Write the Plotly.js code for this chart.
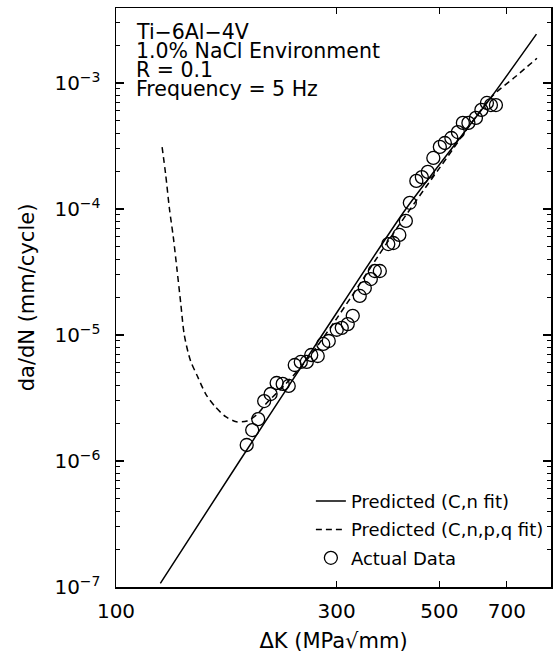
<!DOCTYPE html>
<html>
<head>
<meta charset="utf-8">
<script src="https://cdn.plot.ly/plotly-3.0.1.min.js"></script>
<style>html,body{margin:0;padding:0;background:#fff;}#chart{width:554px;height:660px;}</style>
</head>
<body>
<div id="chart"></div>
<script>
// Actual data (ΔK in MPa√mm, da/dN in mm/cycle)
const dataK = [191.7,197.0,203.0,209.1,215.9,222.5,229.3,236.3,243.5,250.9,258.5,264.3,273.0,280.6,288.4,300.1,307.7,317.0,325.0,336.5,345.1,355.6,362.7,371.9,387.9,397.7,409.8,423.3,431.8,446.0,458.4,472.3,485.4,501.4,514.1,531.0,548.5,562.3,578.0,600.0,616.6,633.8,646.6,662.9];
const dataRate = [1.34e-6,1.76e-6,2.15e-6,2.99e-6,3.40e-6,4.16e-6,4.09e-6,3.94e-6,5.78e-6,6.11e-6,6.11e-6,6.94e-6,6.81e-6,8.49e-6,8.96e-6,1.10e-5,1.14e-5,1.22e-5,1.42e-5,2.04e-5,2.36e-5,2.78e-5,3.22e-5,3.22e-5,5.27e-5,5.37e-5,6.22e-5,8.04e-5,1.12e-4,1.67e-4,1.79e-4,1.97e-4,2.54e-4,3.11e-4,3.34e-4,3.66e-4,4.08e-4,4.82e-4,4.82e-4,5.28e-4,6.11e-4,6.94e-4,6.68e-4,6.68e-4];

// Predicted (C,n fit)
const cnK = [124.7,185,279,423.3,649,811];
const cnRate = [1.07e-7,1.0e-6,1.0e-5,1.0e-4,7.8e-4,2.44e-3];

// Predicted (C,n,p,q fit)
const cnpqK = [125.8,128,130.5,133,135.5,138,140.5,144.8,150,156.7,163.8,172.6,182,192,202,212,230,260,300,400,500,650,730,813];
const cnpqRate = [3.1e-4,1.9e-4,1.0e-4,6.0e-5,3.3e-5,1.8e-5,1.0e-5,6.3e-6,4.7e-6,3.35e-6,2.7e-6,2.25e-6,2.05e-6,2.08e-6,2.35e-6,2.9e-6,3.9e-6,6.5e-6,1.35e-5,6.6e-5,2.1e-4,7.8e-4,1.12e-3,1.57e-3];

const xTickVals = [100,300,500,700];
const xTickText = ['100','300','500','700'];
const yTickVals = [1e-7,1e-6,1e-5,1e-4,1e-3];
const yTickText = ['10<sup>−7</sup>','10<sup>−6</sup>','10<sup>−5</sup>','10<sup>−4</sup>','10<sup>−3</sup>'];
const infoLines = ['Ti−6Al−4V','1.0% NaCl Environment','R = 0.1','Frequency = 5 Hz'];

const yMinor = [];
for (let e = -7; e <= -3; e++) for (let m = 2; m <= 9; m++) yMinor.push(m * Math.pow(10, e));

const FONT = 'DejaVu Sans, Liberation Sans, sans-serif';

const traces = [
  {x: cnK, y: cnRate, mode: 'lines', name: 'Predicted (C,n fit)', legendgroup: 'a',
   line: {color: '#000', width: 1.5, shape: 'spline', smoothing: 0.6}},
  {x: cnpqK, y: cnpqRate, mode: 'lines', name: 'Predicted (C,n,p,q fit)', legendgroup: 'b',
   line: {color: '#000', width: 1.5, dash: '6px,4px', shape: 'spline', smoothing: 0.8}},
  {x: dataK, y: dataRate, mode: 'markers', name: 'Actual Data', legendgroup: 'c',
   marker: {symbol: 'circle-open', size: 13, color: '#000', line: {width: 1.3, color: '#000'}}}
];

const annotations = infoLines.map((t, i) => ({
  text: t, xref: 'paper', yref: 'paper', x: (134 - 116) / 435, y: 1 - (32 + 19 * i - 8) / 579,
  xanchor: 'left', yanchor: 'middle', showarrow: false,
  font: {family: FONT, size: 20.5, color: '#000'}
}));

const layout = {
  width: 554, height: 660,
  margin: {l: 116, r: 3, t: 8, b: 73},
  paper_bgcolor: '#fff', plot_bgcolor: '#fff',
  font: {family: FONT, color: '#000', size: 20},
  showlegend: true,
  legend: {x: 0.448, y: 0.18, xanchor: 'left', yanchor: 'top', bgcolor: 'rgba(0,0,0,0)',
           font: {family: FONT, size: 18, color: '#000'}, tracegroupgap: 2},
  xaxis: {type: 'log', range: [2, 2.9405], tickvals: xTickVals, ticktext: xTickText,
          ticks: 'inside', ticklen: 6, tickwidth: 1.2, tickcolor: '#000',
          showline: true, linecolor: '#000', linewidth: 1.5, mirror: 'ticks',
          showgrid: false, zeroline: false, ticklabelstandoff: 5,
          tickfont: {family: FONT, size: 20, color: '#000'},
          title: {text: 'ΔK (MPa√mm)', font: {family: FONT, size: 21, color: '#000'}, standoff: 12}},
  yaxis: {type: 'log', range: [-7, -2.405], tickvals: yTickVals, ticktext: yTickText,
          ticks: 'inside', ticklen: 8, tickwidth: 1.2, tickcolor: '#000',
          minor: {tickvals: yMinor, ticks: 'inside', ticklen: 4, tickwidth: 1, tickcolor: '#000', showgrid: false},
          showline: true, linecolor: '#000', linewidth: 1.5, mirror: 'ticks',
          showgrid: false, zeroline: false, ticklabelstandoff: 10,
          tickfont: {family: FONT, size: 20, color: '#000'},
          title: {text: 'da/dN (mm/cycle)', font: {family: FONT, size: 21, color: '#000'}, standoff: 14}},
  annotations: annotations
};

Plotly.newPlot('chart', traces, layout, {displayModeBar: false, staticPlot: true});
</script>
</body>
</html>
